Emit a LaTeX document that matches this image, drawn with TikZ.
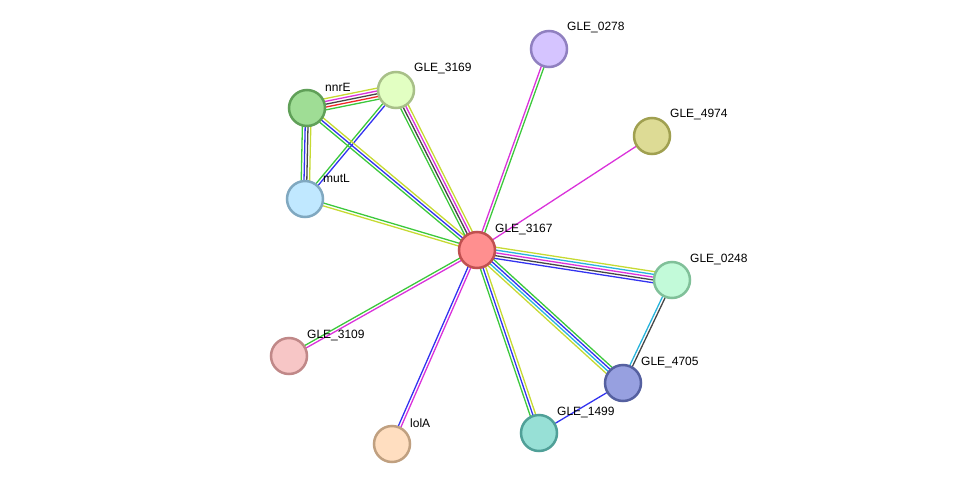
\documentclass[tikz,border=0pt]{standalone}
\usepackage{fontspec}
\setmainfont{Liberation Sans}
\usetikzlibrary{calc,backgrounds}
\definecolor{sgreen}{RGB}{60,200,60}
\definecolor{syellow}{RGB}{198,218,50}
\definecolor{smag}{RGB}{218,50,218}
\definecolor{sblue}{RGB}{50,50,240}
\definecolor{scyan}{RGB}{40,180,220}
\definecolor{sgray}{RGB}{70,70,70}
\definecolor{sred}{RGB}{240,40,40}
\definecolor{fA}{HTML}{FF8F8F}\definecolor{dA}{HTML}{C05050}
\definecolor{fB}{HTML}{D5C4FF}\definecolor{dB}{HTML}{9080C0}
\definecolor{fC}{HTML}{DDDB95}\definecolor{dC}{HTML}{A0A050}
\definecolor{fD}{HTML}{C2FAD9}\definecolor{dD}{HTML}{80C099}
\definecolor{fE}{HTML}{97A0E0}\definecolor{dE}{HTML}{5560A0}
\definecolor{fF}{HTML}{97E0D6}\definecolor{dF}{HTML}{50A098}
\definecolor{fG}{HTML}{FFDEC0}\definecolor{dG}{HTML}{C0A080}
\definecolor{fH}{HTML}{F7C6C6}\definecolor{dH}{HTML}{C08888}
\definecolor{fI}{HTML}{C0E8FF}\definecolor{dI}{HTML}{80A8C0}
\definecolor{fJ}{HTML}{9FDD95}\definecolor{dJ}{HTML}{60A058}
\definecolor{fK}{HTML}{E2FFC2}\definecolor{dK}{HTML}{A8C088}
\tikzset{
  prot/.style={circle, minimum size=36pt, inner sep=0pt, line width=2.5pt, fill=f#1, draw=d#1},
  plabel/.style={anchor=west, inner sep=0pt, font=\fontsize{12}{14}\selectfont},
  edgeline/.style={line width=1.3pt}
}
\newcommand\medge[4]{%
  \foreach \cc [count=\ii] in {#4}{%
    \pgfmathsetmacro\eoff{((#3+1)/2-\ii)*2.8}%
    \draw[\cc, edgeline] ($(#1.center)!\eoff pt!90:(#2.center)$) -- ($(#2.center)!\eoff pt!-90:(#1.center)$);
  }%
}
\begin{document}
\begin{tikzpicture}[x=1pt,y=-1pt]
\useasboundingbox (0,0) rectangle (975,490);
\node[prot=A] (c) at (477,250) {};
\node[prot=B] (p0278) at (549,49) {};
\node[prot=C] (p4974) at (652,136) {};
\node[prot=D] (p0248) at (672,280) {};
\node[prot=E] (p4705) at (623,383) {};
\node[prot=F] (p1499) at (539,433) {};
\node[prot=G] (lolA) at (392,444) {};
\node[prot=H] (p3109) at (289,356) {};
\node[prot=I] (mutL) at (305,199) {};
\node[prot=J] (nnrE) at (307,108) {};
\node[prot=K] (p3169) at (396,90) {};

\foreach \n/\t in {c/GLE\_3167, p0278/GLE\_0278, p4974/GLE\_4974, p0248/GLE\_0248, p4705/GLE\_4705, p1499/GLE\_1499, lolA/lolA, p3109/GLE\_3109, mutL/mutL, nnrE/nnrE, p3169/GLE\_3169}
  \node[plabel] (l\n) at ($(\n.center)+(18,-21)$) {\t};

\begin{pgfonlayer}{background}
\medge{nnrE}{p3169}{5}{syellow,smag,sgray,sred,sgreen}
\medge{nnrE}{mutL}{4}{syellow,sgray,sblue,sgreen}
\medge{mutL}{p3169}{2}{sgreen,sblue}
\medge{nnrE}{c}{3}{syellow,sblue,sgreen}
\medge{p3169}{c}{4}{syellow,smag,sgray,sgreen}
\medge{mutL}{c}{2}{sgreen,syellow}
\medge{c}{p0278}{2}{smag,sgreen}
\medge{c}{p4974}{1}{smag}
\medge{c}{p0248}{5}{syellow,scyan,smag,sgray,sblue}
\medge{c}{p4705}{4}{sgreen,sblue,scyan,syellow}
\medge{c}{p1499}{3}{syellow,sblue,sgreen}
\medge{c}{lolA}{2}{smag,sblue}
\medge{c}{p3109}{2}{smag,sgreen}
\medge{p0248}{p4705}{2}{sgray,scyan}
\medge{p4705}{p1499}{1}{sblue}
\end{pgfonlayer}
\end{tikzpicture}
\end{document}
